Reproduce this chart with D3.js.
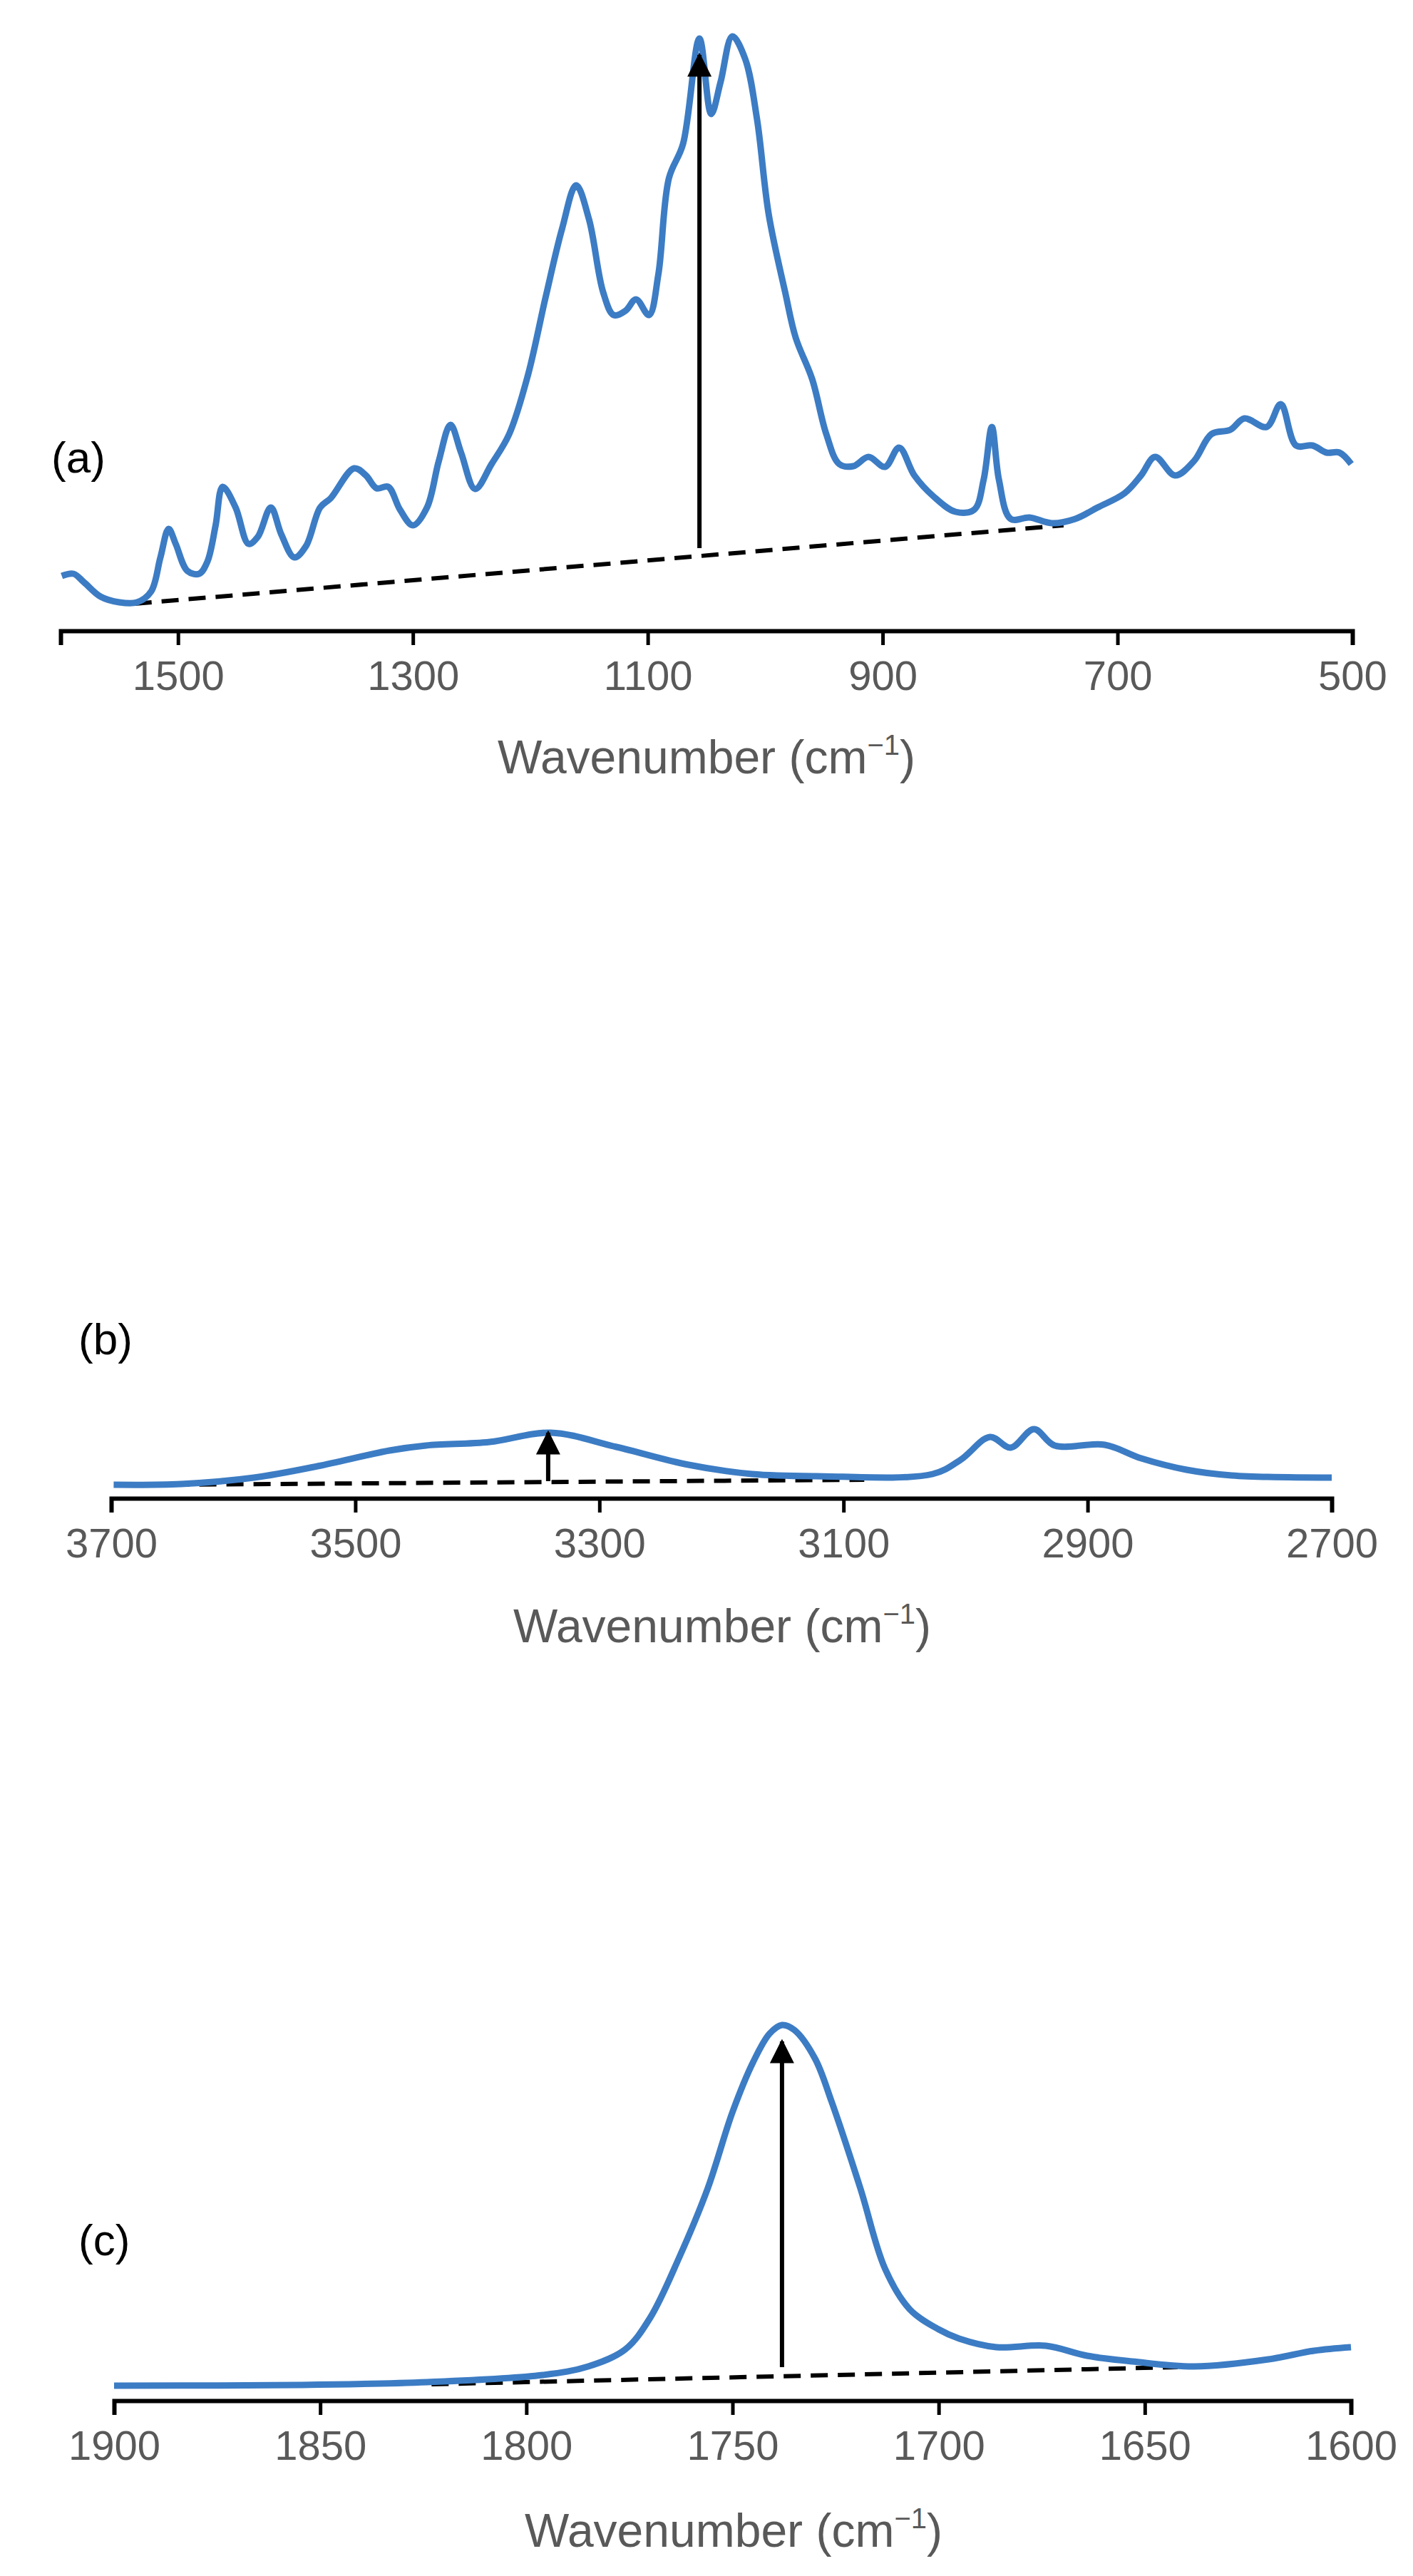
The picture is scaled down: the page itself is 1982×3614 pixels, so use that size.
<!DOCTYPE html>
<html>
<head>
<meta charset="utf-8">
<script src="https://cdn.jsdelivr.net/npm/d3@7"></script>
<style>
  body { margin: 0; background: #fff; }
  svg { display: block; }
</style>
</head>
<body>
<svg id="chart" width="1982" height="3614"></svg>
<script>
// spectra: [wavenumber, absorbance (a.u.)]
var specA = [[1599,.077],[1589,.080],[1580,.068],[1566,.048],[1550,.040],[1535,.040],[1523,.055],[1515,.103],
  [1508,.143],[1502,.122],[1492,.084],[1482,.080],[1475,.097],[1468,.148],[1462,.202],[1451,.173],[1440,.122],
  [1432,.132],[1421,.173],[1412,.135],[1401,.103],[1391,.119],[1379,.173],[1370,.186],[1350,.228],[1340,.218],
  [1331,.200],[1321,.202],[1311,.170],[1300,.148],[1288,.173],[1278,.238],[1268,.289],[1259,.250],[1247,.199],
  [1233,.234],[1218,.276],[1202,.359],[1187,.468],[1173,.564],[1161,.625],[1150,.577],[1138,.475],[1129,.443],
  [1119,.449],[1110,.465],[1099,.443],[1091,.500],[1082,.635],[1070,.683],[1056,.831],[1046,.725],[1038,.770],
  [1028,.834],[1017,.802],[1007,.718],[997,.584],[983,.475],[974,.411],[960,.353],[948,.276],[937,.234],
  [925,.231],[912,.244],[898,.230],[886,.257],[873,.218],[857,.189],[838,.167],[822,.170],[814,.212],
  [807,.286],[801,.212],[791,.157],[775,.159],[756,.151],[736,.157],[717,.173],[694,.193],[680,.218],
  [668,.244],[651,.218],[635,.238],[620,.276],[604,.282],[592,.298],[573,.286],[561,.318],[548,.260],
  [534,.260],[522,.250],[511,.250],[501,.234]];
var specB = [[3698,.019],[3643,.020],[3583,.029],[3531,.045],[3472,.067],[3442,.074],[3390,.079],[3340,.092],
  [3286,.072],[3227,.047],[3175,.034],[3123,.031],[3027,.034],[3004,.054],[2980,.086],[2963,.071],[2944,.097],
  [2927,.074],[2886,.075],[2856,.056],[2819,.040],[2782,.032],[2700,.029]];
var specC = [[1900,.021],[1855,.022],[1824,.026],[1796,.036],[1785,.048],[1776,.072],[1770,.116],[1763,.200],
  [1756,.298],[1750,.405],[1745,.475],[1741,.515],[1738,.527],[1735,.520],[1730,.480],[1726,.420],[1719,.298],
  [1713,.185],[1707,.128],[1700,.100],[1695,.087],[1686,.075],[1674,.077],[1664,.063],[1653,.055],[1638,.048],
  [1620,.058],[1609,.070],[1600,.075]];

// baselines (dashed) and band-height arrows: [from, to] wavenumber & absorbance
var baseA = [[1537,.038],[746,.148]];
var baseB = [[3650,.019],[3083,.026]];
var baseC = [[1823,.023],[1642,.047]];
var arrowA = [1056,.116,.808];
var arrowB = [3342,.024,.092];
var arrowC = [1738,.047,.504];

var ticksA = [1500,1300,1100,900,700,500];
var ticksB = [3700,3500,3300,3100,2900,2700];
var ticksC = [1900,1850,1800,1750,1700,1650,1600];

var svg = d3.select("#chart");
var defs = svg.append("defs");
defs.append("marker")
    .attr("id", "head")
    .attr("viewBox", "0 0 10 10")
    .attr("refX", 9).attr("refY", 5)
    .attr("markerUnits", "userSpaceOnUse")
    .attr("markerWidth", 34).attr("markerHeight", 38)
    .attr("orient", "auto")
  .append("path")
    .attr("d", "M0,0L10,5L0,10z")
    .attr("fill", "#000");

function panel(p) {
  var x = d3.scaleLinear().domain(p.dom).range([p.x0, p.x1]);
  var y = d3.scaleLinear().domain([0, 1]).range([p.axisY, p.axisY - 1000]);
  var g = svg.append("g");

  var axis = d3.axisBottom(x).tickValues(p.ticks).tickSize(20).tickPadding(22).tickFormat(d3.format("d"));
  var ga = g.append("g").attr("transform", "translate(0," + p.axisY + ")").call(axis);
  ga.select(".domain").attr("stroke", "#000").attr("stroke-width", 6);
  ga.selectAll(".tick line").attr("stroke", "#000").attr("stroke-width", 5);
  ga.selectAll(".tick text")
    .attr("fill", "#595959")
    .style("font-family", "Liberation Sans, Arial, sans-serif")
    .style("font-size", "58px");

  var line = d3.line()
    .x(function(d) { return x(d[0]); })
    .y(function(d) { return y(d[1]); })
    .curve(d3.curveCatmullRom.alpha(0.5));

  g.append("path")
    .datum(p.base)
    .attr("d", d3.line().x(function(d) { return x(d[0]); }).y(function(d) { return y(d[1]); }))
    .attr("fill", "none")
    .attr("stroke", "#000")
    .attr("stroke-width", 6)
    .attr("stroke-dasharray", "24,14");

  g.append("path")
    .datum(p.spec)
    .attr("d", line)
    .attr("fill", "none")
    .attr("stroke", "#3c7cc4")
    .attr("stroke-width", 9)
    .attr("stroke-linejoin", "round");

  g.append("line")
    .attr("x1", x(p.arrow[0])).attr("x2", x(p.arrow[0]))
    .attr("y1", y(p.arrow[1])).attr("y2", y(p.arrow[2]))
    .attr("stroke", "#000")
    .attr("stroke-width", 6)
    .attr("marker-end", "url(#head)");

  g.append("text")
    .attr("x", p.labX).attr("y", p.labY)
    .attr("dy", "0.35em")
    .style("font-family", "Liberation Sans, Arial, sans-serif")
    .style("font-size", "62px")
    .attr("fill", "#000")
    .text(p.label);

  var t = g.append("text")
    .attr("x", p.titleX).attr("y", p.titleY)
    .attr("dy", "0.35em")
    .attr("text-anchor", "middle")
    .attr("fill", "#595959")
    .style("font-family", "Liberation Sans, Arial, sans-serif")
    .style("font-size", "66px");
  t.append("tspan").text("Wavenumber (cm");
  t.append("tspan").attr("dy", -26).style("font-size", "40px").text("\u22121");
  t.append("tspan").attr("dy", 26).text(")");
}

panel({dom: [1600, 500], x0: 85, x1: 1897, axisY: 885, ticks: ticksA, spec: specA, base: baseA,
  arrow: arrowA, label: "(a)", labX: 72, labY: 641, titleX: 991, titleY: 1062});
panel({dom: [3700, 2700], x0: 156, x1: 1868, axisY: 2102, ticks: ticksB, spec: specB, base: baseB,
  arrow: arrowB, label: "(b)", labX: 110, labY: 1878, titleX: 1013, titleY: 2281});
panel({dom: [1900, 1600], x0: 160, x1: 1895, axisY: 3368, ticks: ticksC, spec: specC, base: baseC,
  arrow: arrowC, label: "(c)", labX: 110, labY: 3142, titleX: 1029, titleY: 3550});
</script>
</body>
</html>
